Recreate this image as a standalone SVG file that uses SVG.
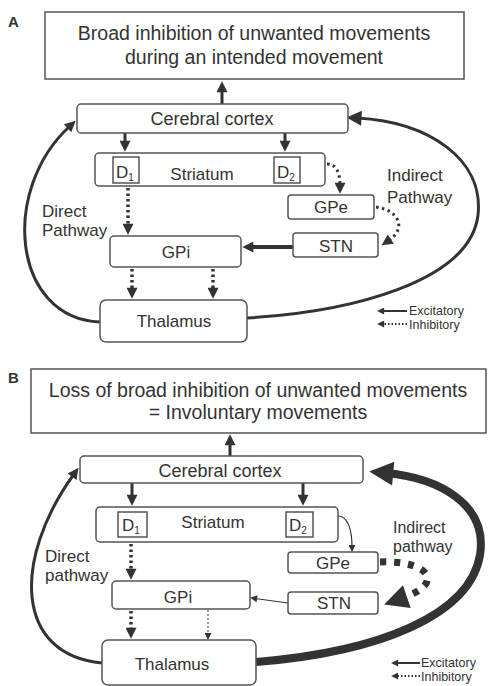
<svg xmlns="http://www.w3.org/2000/svg" width="492" height="686" viewBox="0 0 492 686">
<style>
text{font-family:"Liberation Sans",Arial,sans-serif;fill:#333}
.t{font-size:17px;text-anchor:middle}
.h{font-size:19.5px;text-anchor:middle}
.l{font-size:17px}
.i{font-size:16px}
.g{font-size:12.5px}
.p{font-size:15px;font-weight:bold}
.box{fill:#fff;stroke:#555;stroke-width:1.5}
.c{fill:none;stroke:#333}
.s3{stroke-width:3}
.dot{stroke-width:3.5;stroke-dasharray:2.5 3}
</style>
<defs>
<marker id="ah" viewBox="0 0 10 10" refX="3" refY="5" markerWidth="13" markerHeight="11" markerUnits="userSpaceOnUse" orient="auto"><path d="M0,0L10,5L0,10z" fill="#333"/></marker>
<marker id="am" viewBox="0 0 10 10" refX="3" refY="5" markerWidth="20" markerHeight="15" markerUnits="userSpaceOnUse" orient="auto"><path d="M0,0L10,5L0,10z" fill="#333"/></marker>
<marker id="al" viewBox="0 0 10 10" refX="3" refY="5" markerWidth="30" markerHeight="24" markerUnits="userSpaceOnUse" orient="auto"><path d="M0,0L10,5L0,10z" fill="#333"/></marker>
<marker id="at" viewBox="0 0 10 10" refX="3" refY="5" markerWidth="8" markerHeight="7" markerUnits="userSpaceOnUse" orient="auto"><path d="M0,0L10,5L0,10z" fill="#333"/></marker>
</defs>

<text class="p" x="8" y="27">A</text>
<text class="p" x="8" y="383">B</text>

<g id="connectors">
<!-- Panel A -->
<line class="c s3" x1="222" y1="104" x2="222" y2="89" marker-end="url(#ah)"/>
<line class="c s3" x1="125" y1="133" x2="125" y2="144" marker-end="url(#ah)"/>
<line class="c s3" x1="285" y1="133" x2="285" y2="144" marker-end="url(#ah)"/>
<line class="c dot" x1="128" y1="188" x2="128" y2="227" marker-end="url(#ah)"/>
<line class="c dot" x1="132" y1="269" x2="132" y2="291" marker-end="url(#ah)"/>
<line class="c dot" x1="213" y1="269" x2="213" y2="291" marker-end="url(#ah)"/>
<line class="c" stroke-width="4" x1="293" y1="247" x2="250" y2="247" marker-end="url(#ah)"/>
<path class="c" stroke-width="3" stroke-dasharray="2.5 3.5" d="M327,164 C336,164 340,172 340,186" marker-end="url(#ah)"/>
<path class="c" stroke-width="3" stroke-dasharray="2.5 3.5" d="M376,207 C398,210 408,228 388,241" marker-end="url(#ah)"/>
<path class="c s3" d="M100,322 C12,318 0,190 70,126" marker-end="url(#ah)"/>
<path class="c s3" d="M247,318 C350,312 470,282 478,215 C484,160 430,122 357,118" marker-end="url(#am)"/>
<line class="c" stroke-width="2" x1="407" y1="311" x2="382" y2="311" marker-end="url(#at)"/>
<line class="c" stroke-width="2" stroke-dasharray="1.5 2" x1="407" y1="324" x2="382" y2="324" marker-end="url(#at)"/>

<!-- Panel B -->
<line class="c s3" x1="230" y1="456" x2="230" y2="442" marker-end="url(#ah)"/>
<line class="c s3" x1="132" y1="483" x2="132" y2="498" marker-end="url(#ah)"/>
<line class="c s3" x1="303" y1="483" x2="303" y2="498" marker-end="url(#ah)"/>
<line class="c dot" x1="131" y1="544" x2="131" y2="572" marker-end="url(#ah)"/>
<line class="c dot" x1="131" y1="611" x2="131" y2="631" marker-end="url(#ah)"/>
<line class="c" stroke-width="1" stroke-dasharray="2 2" x1="208" y1="610" x2="208" y2="635" marker-end="url(#at)"/>
<line class="c" stroke-width="1.2" x1="288" y1="603" x2="255" y2="598.5" marker-end="url(#at)"/>
<path class="c" stroke-width="1.2" d="M338,516 C348,516 352,530 352,547" marker-end="url(#at)"/>
<path class="c" stroke-width="7" stroke-dasharray="6 8" d="M380,562 C425,560 450,582 400,599" marker-end="url(#al)"/>
<path class="c s3" d="M102,663 C15,655 12,560 74,474" marker-end="url(#ah)"/>
<path class="c" stroke-width="8" d="M256,662 C380,652 470,615 480,555 C488,505 440,478 386,473" marker-end="url(#al)"/>
<line class="c" stroke-width="2" x1="420" y1="663" x2="396" y2="663" marker-end="url(#at)"/>
<line class="c" stroke-width="2" stroke-dasharray="1.5 2" x1="420" y1="676" x2="396" y2="676" marker-end="url(#at)"/>
</g>

<!-- Panel A nodes -->
<g id="outcomeA"><rect class="box" x="45" y="12" width="419" height="67"/>
<text class="h" x="254" y="40">Broad inhibition of unwanted movements</text>
<text class="h" x="254" y="64">during an intended movement</text></g>
<g id="cortexA"><rect class="box" x="77" y="104" width="271" height="29" rx="4"/>
<text class="t" x="212" y="125" style="font-size:18px">Cerebral cortex</text></g>
<g id="striatumA"><rect class="box" x="95" y="153" width="230" height="33" rx="4"/>
<rect class="box" x="113" y="157" width="26" height="26"/>
<rect class="box" x="274" y="157" width="26" height="26"/>
<text class="l" x="116" y="178">D<tspan font-size="10" dy="3">1</tspan></text>
<text class="l" x="277" y="178">D<tspan font-size="10" dy="3">2</tspan></text>
<text class="t" x="202" y="180">Striatum</text></g>
<g id="gpiA"><rect class="box" x="110" y="236" width="131" height="31" rx="4"/>
<text class="t" x="176" y="258">GPi</text></g>
<g id="gpeA"><rect class="box" x="288" y="195" width="86" height="24" rx="3"/>
<text class="t" x="331" y="213">GPe</text></g>
<g id="stnA"><rect class="box" x="293" y="233" width="85" height="24" rx="3"/>
<text class="t" x="336" y="252">STN</text></g>
<g id="thalamusA"><rect class="box" x="100" y="300" width="147" height="42" rx="6"/>
<text class="t" x="174" y="327">Thalamus</text></g>
<g id="labelsA">
<text class="l" x="42" y="217">Direct</text>
<text class="l" x="42" y="236">Pathway</text>
<text class="l" x="387" y="181">Indirect</text>
<text class="l" x="387" y="203">Pathway</text>
<text class="g" x="409" y="315">Excitatory</text>
<text class="g" x="409" y="329">Inhibitory</text></g>

<!-- Panel B nodes -->
<g id="outcomeB"><rect class="box" x="31" y="369" width="455" height="64"/>
<text class="h" x="258" y="397">Loss of broad inhibition of unwanted movements</text>
<text class="h" x="258" y="419">= Involuntary movements</text></g>
<g id="cortexB"><rect class="box" x="80" y="456" width="283" height="27" rx="4"/>
<text class="t" x="220" y="477" style="font-size:18px">Cerebral cortex</text></g>
<g id="striatumB"><rect class="box" x="96" y="507" width="242" height="35" rx="4"/>
<rect class="box" x="118" y="512" width="29" height="25"/>
<rect class="box" x="286" y="512" width="27" height="25"/>
<text class="l" x="122" y="531">D<tspan font-size="10" dy="3">1</tspan></text>
<text class="l" x="289" y="531">D<tspan font-size="10" dy="3">2</tspan></text>
<text class="t" x="213" y="528">Striatum</text></g>
<g id="gpiB"><rect class="box" x="112" y="581" width="138" height="28" rx="4"/>
<text class="t" x="178" y="603">GPi</text></g>
<g id="gpeB"><rect class="box" x="288" y="552" width="90" height="21" rx="3"/>
<text class="t" x="333" y="569">GPe</text></g>
<g id="stnB"><rect class="box" x="288" y="592" width="90" height="22" rx="3"/>
<text class="t" x="334" y="609">STN</text></g>
<g id="thalamusB"><rect class="box" x="102" y="640" width="154" height="45" rx="6"/>
<text class="t" x="172" y="670">Thalamus</text></g>
<g id="labelsB">
<text class="l" x="45" y="562">Direct</text>
<text class="l" x="45" y="581">pathway</text>
<text class="i" x="393" y="533">Indirect</text>
<text class="i" x="393" y="552">pathway</text>
<text class="g" x="421" y="667">Excitatory</text>
<text class="g" x="421" y="681">Inhibitory</text></g>
</svg>
